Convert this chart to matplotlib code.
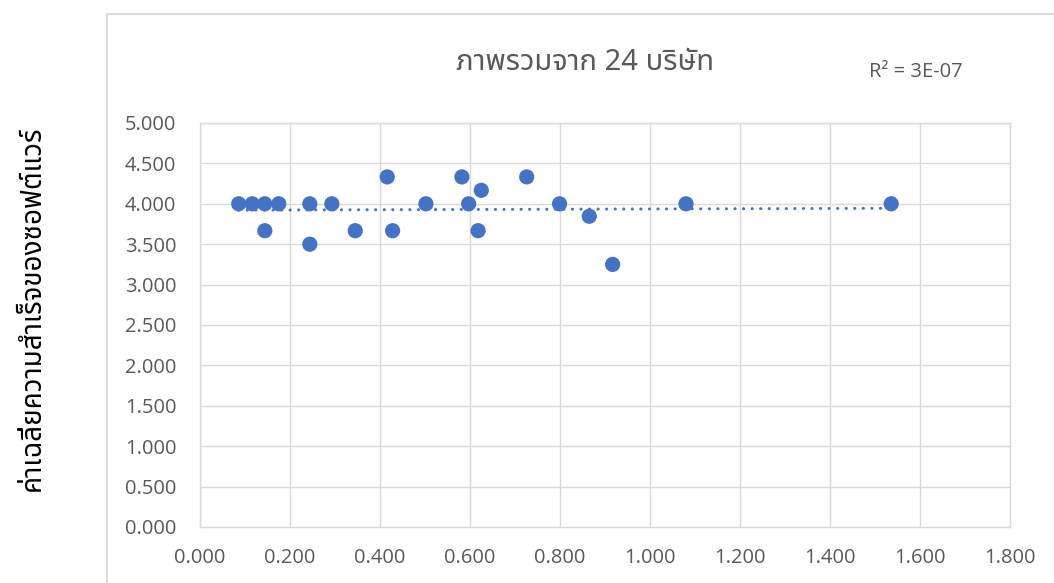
import numpy as np
import matplotlib
matplotlib.use("Agg")
import matplotlib.pyplot as plt
from matplotlib import font_manager as fm
from matplotlib.ft2font import FT2Font
from matplotlib.lines import Line2D

# ---------------- data ----------------
x_values = [0.086, 0.116, 0.144, 0.144, 0.175, 0.244, 0.244, 0.293, 0.345, 0.416, 0.428,
            0.502, 0.582, 0.597, 0.618, 0.625, 0.726, 0.799, 0.865, 0.917, 1.080, 1.536]
y_values = [4.000, 4.000, 4.000, 3.667, 4.000, 4.000, 3.500, 4.000, 3.667, 4.333, 3.667,
            4.000, 4.333, 4.000, 3.667, 4.167, 4.333, 4.000, 3.846, 3.250, 4.000, 4.000]
x_ticks = [0.0, 0.2, 0.4, 0.6, 0.8, 1.0, 1.2, 1.4, 1.6, 1.8]
y_ticks = [0.0, 0.5, 1.0, 1.5, 2.0, 2.5, 3.0, 3.5, 4.0, 4.5, 5.0]
title_text = "ภาพรวมจาก 24 บริษัท"
ylabel_text = "ค่าเฉลี่ยความสำเร็จของซอฟต์แวร์"
r2_text = "R² = 3E-07"

# ---------------- fonts ----------------
def find_thai_fonts():
    names = []
    seen = set()
    for f in fm.fontManager.ttflist:
        if f.name in seen:
            continue
        try:
            cm = FT2Font(f.fname).get_charmap()
        except Exception:
            continue
        if 0x0E20 in cm and 0x0E1E in cm and 0x0E48 in cm:
            names.append(f.name)
            seen.add(f.name)
    return names

thai = find_thai_fonts()
pref = ["Noto Sans Thai", "Noto Sans Thai UI", "Noto Sans Thai Looped"]
thai_sorted = [n for n in pref if n in thai] + [n for n in thai if n not in pref]
thai_family = thai_sorted[:1] + ["DejaVu Sans"]
num_family = ["Open Sans", "DejaVu Sans"]

plt.rcParams['font.family'] = num_family

W, H = 1054, 583
fig = plt.figure(figsize=(W / 100, H / 100), dpi=100)
fig.patch.set_facecolor("white")

ax = fig.add_axes([200 / W, 1 - 527 / H, (1010 - 200) / W, (527 - 123) / H])

blue = "#4472C4"
grid_c = "#D9D9D9"
text_c = "#595959"

ax.scatter(x_values, y_values, s=120, color=blue, edgecolors="none", zorder=3)

# linear trendline
xs = np.array(x_values)
ys = np.array(y_values)
slope, intercept = np.polyfit(xs, ys, 1)
xt = np.array([xs.min(), xs.max()])
ax.plot(xt, slope * xt + intercept, color=blue, lw=2.2,
        linestyle=(0, (0.05, 2.75)), dash_capstyle="round", zorder=4)

ax.set_xlim(0, 1.8)
ax.set_ylim(0, 5)
ax.set_xticks(x_ticks)
ax.set_yticks(y_ticks)
ax.set_xticklabels([f"{v:.3f}" for v in x_ticks])
ax.set_yticklabels([f"{v:.3f}" for v in y_ticks])
ax.tick_params(axis="both", length=0, labelsize=14.5, labelcolor=text_c)
ax.tick_params(axis="x", pad=15)
ax.tick_params(axis="y", pad=17)
ax.grid(True, color=grid_c, lw=1.0)
ax.set_axisbelow(True)
for sp in ax.spines.values():
    sp.set_color(grid_c)
    sp.set_linewidth(1.0)

# chart area border
fig.add_artist(Line2D([106.5 / W, 106.5 / W], [0, 1 - 14 / H], transform=fig.transFigure,
                      color=grid_c, lw=1.3))
fig.add_artist(Line2D([106.5 / W, 1], [1 - 14 / H, 1 - 14 / H], transform=fig.transFigure,
                      color=grid_c, lw=1.3))

fig.text(585 / W, 1 - 62 / H, title_text, ha="center", va="center",
         fontsize=21, color=text_c, family=thai_family)
fig.text(916 / W, 1 - 72 / H, r2_text, ha="center", va="center",
         fontsize=14.5, color=text_c, family=num_family)
fig.text(33 / W, 1 - 308 / H, ylabel_text, ha="center", va="center", rotation=90,
         fontsize=20, color="black", family=thai_family)

fig.savefig("out.png", dpi=100, facecolor="white")
